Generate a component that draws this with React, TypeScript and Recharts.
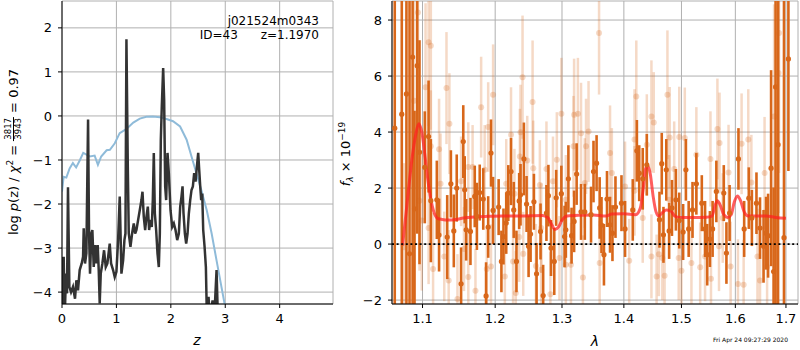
import React from "react";
import { CartesianGrid, ComposedChart, ErrorBar, Line, ReferenceLine, Scatter, XAxis, YAxis } from "recharts";

// left panel: log p(z) (black) and the smooth curve (blue)
const pzZ = [
  0.0, 0.012, 0.031, 0.049, 0.074, 0.092, 0.11, 0.135, 0.166, 0.202, 0.239, 0.264, 0.294, 0.325, 0.362, 0.387, 0.399,
  0.423, 0.448, 0.479, 0.497, 0.515, 0.54, 0.558, 0.583, 0.607, 0.632, 0.656, 0.675, 0.693, 0.712, 0.742, 0.773, 0.804,
  0.834, 0.877, 0.902, 0.939, 0.969, 1.0, 1.031, 1.061, 1.092, 1.123, 1.147, 1.166, 1.184, 1.209, 1.227, 1.258, 1.288,
  1.319, 1.344, 1.368, 1.399, 1.429, 1.46, 1.479, 1.503, 1.528, 1.552, 1.577, 1.601, 1.626, 1.65, 1.669, 1.687, 1.706,
  1.73, 1.755, 1.779, 1.798, 1.816, 1.834, 1.859, 1.877, 1.896, 1.914, 1.939, 1.963, 1.994, 2.025, 2.055, 2.086, 2.117,
  2.147, 2.172, 2.196, 2.215, 2.233, 2.258, 2.282, 2.307, 2.331, 2.356, 2.38, 2.405, 2.429, 2.454, 2.479, 2.503, 2.521,
  2.54, 2.558, 2.577, 2.595, 2.62, 2.644, 2.663, 2.693, 2.718, 2.767, 2.798, 2.84, 2.865, 2.902,
];
const pzLog = [
  -3.2, -4.6, -3.2, -4.6, -3.58, -4.03, -1.62, -3.88, -4.0, -3.88, -4.15, -3.73, -3.96, -3.5, -3.35, -3.2, -2.55, -3.35,
  -3.12, -0.08, -2.67, -3.58, -2.67, -2.59, -3.43, -2.93, -3.35, -2.93, -3.5, -4.26, -3.58, -3.35, -3.05, -3.43, -3.35,
  -2.9, -3.35, -3.5, -3.66, -3.54, -2.82, -1.83, -3.58, -3.28, -2.82, -2.67, 1.74, -1.15, -2.67, -2.97, -2.67, -2.44,
  -2.67, -2.59, -2.36, -2.14, -1.91, -1.72, -2.29, -2.59, -2.29, -2.06, -2.59, -2.36, -2.52, -1.91, -0.84, -2.21, -2.59,
  -3.12, -3.43, -2.67, -0.54, 0.22, 1.09, 0.37, -1.6, -1.91, -0.84, -1.3, -2.14, -2.52, -2.44, -2.59, -2.82, -2.67,
  -2.06, -1.83, -1.6, -2.21, -2.67, -2.9, -2.67, -2.21, -1.91, -1.68, -1.6, -1.3, -1.49, -1.15, -0.84, -1.22, -1.6,
  -1.91, -1.76, -2.59, -2.97, -3.43, -4.6, -4.11, -4.6, -4.19, -4.6, -3.5, -4.6, -5.0,
];
const priorZ = [
  0.0, 0.03, 0.08, 0.14, 0.2, 0.26, 0.33, 0.39, 0.45, 0.51, 0.6, 0.66, 0.72, 0.82, 0.88, 0.97, 1.06, 1.18, 1.31, 1.43,
  1.55, 1.67, 1.8, 1.92, 2.04, 2.17, 2.29, 2.38, 2.47, 2.56, 2.66, 2.75, 2.84, 2.93, 2.99, 3.05,
];
const priorLog = [
  -1.72, -1.38, -1.4, -1.19, -1.07, -1.17, -1.0, -0.84, -0.88, -0.92, -0.9, -1.11, -0.92, -0.78, -0.77, -0.62, -0.39,
  -0.3, -0.15, -0.06, -0.02, -0.01, -0.03, -0.07, -0.12, -0.24, -0.54, -0.92, -1.3, -1.68, -2.14, -2.67, -3.28, -3.88,
  -4.28, -4.8,
];

// right panel: spectrum points (dark), other exposures (light), model (red)
const darkLam = [
  1.064, 1.073, 1.079, 1.083, 1.087, 1.0895, 1.093, 1.096, 1.103, 1.108, 1.111, 1.119, 1.122, 1.133, 1.138, 1.142,
  1.146, 1.152, 1.155, 1.157, 1.159, 1.165, 1.171, 1.174, 1.178, 1.183, 1.187, 1.19, 1.194, 1.197, 1.205, 1.209, 1.212,
  1.216, 1.219, 1.223, 1.227, 1.231, 1.235, 1.237, 1.242, 1.246, 1.249, 1.252, 1.257, 1.261, 1.267, 1.271, 1.276,
  1.279, 1.283, 1.288, 1.291, 1.299, 1.304, 1.306, 1.31, 1.315, 1.319, 1.323, 1.33, 1.336, 1.346, 1.35, 1.355, 1.36,
  1.363, 1.367, 1.372, 1.377, 1.381, 1.386, 1.396, 1.402, 1.415, 1.422, 1.426, 1.432, 1.439, 1.461, 1.465, 1.468,
  1.473, 1.478, 1.483, 1.49, 1.496, 1.503, 1.508, 1.513, 1.52, 1.527, 1.537, 1.543, 1.547, 1.552, 1.557, 1.564, 1.578,
  1.583, 1.589, 1.606, 1.617, 1.626, 1.632, 1.641, 1.648, 1.655, 1.66, 1.664, 1.67, 1.675, 1.679, 1.684, 1.696, 1.705,
];
const darkFlux = [
  4.14, 4.64, 5.36, -0.35, 6.68, 1.26, 6.37, 3.28, 2.74, 3.84, 1.55, 1.58, 0.32, 0.25, 2.15, 0.47, 2.0, -1.42, 3.66,
  1.94, 0.51, 0.45, 1.7, 0.99, 1.84, 1.61, -1.85, 0.61, 3.25, 1.2, 1.32, -0.62, 0.27, 0.75, 1.82, 2.59, 1.22, -0.62,
  1.54, 1.76, 3.04, 1.43, -0.08, 0.36, 1.51, -1.06, 0.45, -1.84, 1.11, 1.73, -0.14, -0.62, 1.65, 1.8, 0.27, 0.51, 2.33,
  0.3, 0.81, 2.5, 1.15, 1.15, 1.05, 2.59, 2.89, 1.29, 0.68, -0.38, 1.61, 0.69, 0.39, 1.32, 1.46, 0.54, 1.22, 3.33, 2.53,
  2.33, 2.83, 0.87, 2.87, 0.33, 2.65, 0.47, 1.29, 1.58, 0.84, 0.43, 2.65, 0.54, 1.22, 2.15, 1.46, 0.54, -0.38, 0.18,
  0.54, 1.88, 1.82, -0.32, 1.11, 3.04, 0.54, 1.64, 0.93, 1.46, 0.57, -0.08, 0.39, 0.3, 2.71, -0.98, 5.61, 3.55, 0.23,
  6.61,
];
const darkErr = [
  12, 12, 12, 12, 12, 3.5, 6, 4, 2.0, 2.0, 2.2, 1.4, 1.3, 1.5, 1.2, 1.3, 1.2, 1.3, 1.3, 1.2, 1.1, 1.2, 1.1, 1.2, 1.0,
  1.1, 1.2, 1.1, 1.2, 1.2, 1.0, 1.1, 1.0, 1.1, 1.0, 1.2, 1.0, 1.1, 1.0, 1.1, 1.3, 1.0, 1.1, 1.0, 1.0, 1.1, 1.0, 1.1,
  1.0, 1.1, 1.0, 1.2, 1.0, 1.0, 1.1, 1.0, 1.2, 1.0, 1.1, 1.1, 1.0, 1.0, 1.0, 1.1, 1.0, 1.1, 1.0, 1.1, 1.0, 1.0, 1.0,
  1.1, 1.0, 1.0, 1.1, 1.1, 1.0, 1.1, 1.1, 1.0, 1.1, 1.0, 1.1, 1.0, 1.0, 1.1, 1.0, 1.0, 1.1, 1.0, 1.0, 1.1, 1.0, 1.0,
  1.1, 1.0, 1.0, 1.1, 1.0, 1.1, 1.0, 1.1, 1.0, 1.1, 1.0, 1.1, 1.1, 1.3, 1.3, 1.5, 3.5, 3.0, 12, 12, 12, 4,
];

const lightLam = [
  1.076, 1.089, 1.094, 1.096, 1.099, 1.104, 1.108, 1.108, 1.111, 1.111, 1.114, 1.122, 1.124, 1.129, 1.132, 1.135,
  1.136, 1.147, 1.152, 1.156, 1.162, 1.162, 1.168, 1.172, 1.18, 1.185, 1.188, 1.19, 1.194, 1.197, 1.214, 1.216, 1.223,
  1.226, 1.228, 1.23, 1.235, 1.236, 1.237, 1.24, 1.241, 1.247, 1.255, 1.256, 1.26, 1.266, 1.268, 1.268, 1.276, 1.282,
  1.286, 1.292, 1.296, 1.299, 1.306, 1.306, 1.314, 1.318, 1.319, 1.325, 1.33, 1.333, 1.336, 1.338, 1.342, 1.359, 1.36,
  1.377, 1.38, 1.402, 1.409, 1.418, 1.418, 1.421, 1.432, 1.439, 1.447, 1.447, 1.451, 1.456, 1.46, 1.466, 1.47, 1.475,
  1.478, 1.479, 1.487, 1.495, 1.496, 1.5, 1.506, 1.518, 1.527, 1.534, 1.543, 1.553, 1.554, 1.566, 1.569, 1.57, 1.576,
  1.587, 1.591, 1.605, 1.612, 1.616, 1.625, 1.631, 1.643, 1.648, 1.657, 1.662, 1.676, 1.685, 1.686,
];
const lightFlux = [
  -0.11, 5.12, 8.27, 1.55, 0.84, 5.6, 7.21, 0.57, 7.08, 3.49, -0.89, 3.39, 2.15, -0.44, 5.57, -1.3, 4.3, -1.96, 2.24,
  -0.18, 2.75, -1.18, 2.75, -1.67, 4.89, 2.65, -0.89, 4.18, -0.8, 5.33, -1.16, 2.15, 3.9, -0.62, 1.8, -1.75, 0.25,
  3.13, 3.99, 5.96, -0.35, 2.98, 5.07, 2.71, -0.78, 2.11, 0.57, -0.92, 2.68, -1.79, 2.24, 3.01, -0.5, 4.65, 1.58, -0.74,
  -0.74, 3.49, 4.62, 4.65, 3.96, -1.19, 2.18, 3.49, 4.02, 7.54, -0.68, 3.25, 2.54, 2.06, -0.6, 3.73, 1.9, 5.27, 0.93,
  3.55, 4.56, -0.44, 4.34, -1.16, -0.36, -0.5, -1.13, 5.33, 1.58, 3.81, 2.68, -0.5, 3.82, -0.95, 3.79, -0.68, 3.19,
  -0.83, -0.44, 3.04, -1.24, 4.11, -0.08, 3.61, 0.93, 2.56, -0.8, -1.43, 3.58, -1.45, 3.73, 2.2, -0.44, -1.3, 2.54,
  -0.82, 4.56, 6.11, 7.54,
];
const lightErr = [
  3.0, 4.0, 5.0, 2.5, 2.5, 3.0, 3.0, 2.0, 3.0, 2.0, 2.0, 1.8, 1.8, 1.6, 2.0, 1.8, 1.8, 1.6, 1.6, 1.5, 1.6, 1.6, 1.5,
  1.5, 1.8, 1.6, 1.5, 1.6, 1.5, 1.8, 1.5, 1.6, 1.7, 1.5, 1.6, 1.5, 1.6, 1.7, 1.7, 2.2, 1.5, 1.6, 2.2, 1.7, 1.5, 1.6,
  1.6, 1.5, 1.7, 1.5, 1.6, 1.7, 1.5, 2.0, 1.6, 1.5, 1.5, 1.8, 2.0, 2.0, 1.8, 1.5, 1.6, 1.7, 1.8, 2.2, 1.5, 1.7, 1.6,
  1.6, 1.5, 1.8, 1.6, 2.0, 1.6, 1.8, 2.0, 1.5, 1.8, 1.5, 1.5, 1.5, 1.5, 2.3, 1.6, 1.8, 1.7, 1.5, 1.8, 1.5, 1.8, 1.5,
  1.7, 1.6, 1.6, 1.7, 1.6, 1.8, 1.6, 1.8, 1.6, 1.7, 1.6, 1.6, 1.8, 1.6, 1.8, 1.7, 1.7, 1.8, 2.0, 2.0, 4.0, 5.0, 5.0,
];

const modelLam = [
  1.074, 1.08, 1.086, 1.091, 1.095, 1.099, 1.103, 1.107, 1.111, 1.115, 1.12, 1.126, 1.135, 1.145, 1.155, 1.17, 1.19,
  1.21, 1.23, 1.25, 1.27, 1.278, 1.284, 1.289, 1.295, 1.3, 1.308, 1.33, 1.35, 1.37, 1.38, 1.4, 1.42, 1.428, 1.433,
  1.437, 1.441, 1.445, 1.45, 1.455, 1.46, 1.466, 1.473, 1.48, 1.488, 1.495, 1.52, 1.545, 1.556, 1.562, 1.566, 1.571,
  1.578, 1.585, 1.592, 1.598, 1.604, 1.61, 1.617, 1.625, 1.64, 1.66, 1.68, 1.7,
];
const modelFlux = [
  -0.05, 1.5, 3.0, 3.9, 4.3, 4.0, 3.2, 2.3, 1.6, 1.15, 0.92, 0.88, 0.86, 0.88, 0.93, 0.97, 0.99, 1.0, 1.0, 1.01, 1.02,
  0.95, 0.7, 0.52, 0.62, 0.85, 1.0, 1.03, 1.04, 1.0, 1.07, 1.08, 1.05, 1.3, 2.0, 2.7, 2.8, 2.5, 1.7, 1.15, 1.0, 1.12,
  1.22, 1.2, 1.0, 0.95, 0.95, 0.96, 1.0, 1.4, 1.55, 1.4, 1.05, 0.95, 1.05, 1.5, 1.72, 1.55, 1.15, 1.0, 1.0, 1.0, 0.95,
  0.92,
];

const zTicks = [0, 1, 2, 3, 4];
const logTicks = [-4, -3, -2, -1, 0, 1, 2];
const lamTicks = [1.1, 1.2, 1.3, 1.4, 1.5, 1.6, 1.7];
const fluxTicks = [-2, 0, 2, 4, 6, 8];

const FLUX_MIN = -2.14;
const FLUX_MAX = 8.68;

// error bars are cut at the frame, like matplotlib clips them
const barRange = (f: number, e: number) => [Math.min(e, f - FLUX_MIN), Math.min(e, FLUX_MAX - f)];

const pzData = pzZ.map((z, i) => ({ z, v: pzLog[i] }));
const priorData = priorZ.map((z, i) => ({ z, v: priorLog[i] }));
const darkData = darkLam.map((lam, i) => ({ lam, f: darkFlux[i], err: barRange(darkFlux[i], darkErr[i]) }));
const lightData = lightLam.map((lam, i) => ({ lam, f: lightFlux[i], err: barRange(lightFlux[i], lightErr[i]) }));
const modelData = modelLam.map((lam, i) => ({ lam, f: modelFlux[i] }));

const FONT = '"DejaVu Sans", sans-serif';
const ORANGE = "#d8671a";
const tickStyle = { fill: "#000", fontSize: 13, fontFamily: FONT };
const minus = (v: number) => (v < 0 ? "\u2212" + Math.abs(v) : String(v));

const dot = (r: number, opacity: number) => (p: any) =>
  <circle cx={p.cx} cy={p.cy} r={r} fill={ORANGE} fillOpacity={opacity} />;

export default function App() {
  return (
    <div style={{ position: "absolute", left: 0, top: 0, width: 800, height: 350, background: "#fff", fontFamily: FONT, color: "#000" }}>
      <div style={{ position: "absolute", left: 0, top: 0 }}>
        <ComposedChart width={340} height={350} margin={{ top: 1, right: 7, bottom: 0, left: 0 }}>
          <CartesianGrid stroke='#b0b0b0' strokeWidth={1} />
          <XAxis dataKey='z' type='number' domain={[0, 4.98]} ticks={zTicks} allowDataOverflow height={46}
            tick={tickStyle} tickSize={4} tickMargin={6} axisLine={{ stroke: "#000" }} tickLine={{ stroke: "#000" }} />
          <YAxis dataKey='v' type='number' domain={[-4.27, 2.61]} ticks={logTicks} allowDataOverflow width={62}
            tick={tickStyle} tickSize={4} tickMargin={6} tickFormatter={minus} axisLine={{ stroke: "#000" }} tickLine={{ stroke: "#000" }} />
          <XAxis xAxisId='top' orientation='top' type='number' domain={[0, 1]} height={0} tick={false} tickLine={false} axisLine={{ stroke: "#000" }} />
          <YAxis yAxisId='right' orientation='right' type='number' domain={[0, 1]} width={0} tick={false} tickLine={false} axisLine={{ stroke: "#000" }} />
          <Line data={priorData} dataKey='v' type='linear' stroke='#8fbbd9' strokeWidth={2} dot={false} isAnimationActive={false} />
          <Line data={pzData} dataKey='v' type='linear' stroke='#333333' strokeWidth={2.5} dot={false} isAnimationActive={false} />
        </ComposedChart>
      </div>

      <div style={{ position: "absolute", left: 340, top: 0 }}>
        <ComposedChart width={460} height={350} margin={{ top: 1, right: 2, bottom: 0, left: 0 }}>
          <CartesianGrid stroke='#b0b0b0' strokeWidth={1} />
          <XAxis dataKey='lam' type='number' scale='log' domain={[1.0605, 1.7247]} ticks={lamTicks} allowDataOverflow height={46}
            tick={tickStyle} tickSize={4} tickMargin={6} tickFormatter={(v: number) => v.toFixed(1)} axisLine={{ stroke: "#000" }} tickLine={{ stroke: "#000" }} />
          <YAxis dataKey='f' type='number' domain={[FLUX_MIN, FLUX_MAX]} ticks={fluxTicks} allowDataOverflow width={52}
            tick={tickStyle} tickSize={4} tickMargin={6} tickFormatter={minus} axisLine={{ stroke: "#000" }} tickLine={{ stroke: "#000" }} />
          <XAxis xAxisId='top' orientation='top' type='number' domain={[0, 1]} height={0} tick={false} tickLine={false} axisLine={{ stroke: "#000" }} />
          <YAxis yAxisId='right' orientation='right' type='number' domain={[0, 1]} width={0} tick={false} tickLine={false} axisLine={{ stroke: "#000" }} />
          <Scatter data={lightData} dataKey='f' shape={dot(3, 0.25)} isAnimationActive={false}>
            <ErrorBar dataKey='err' direction='y' width={0} stroke={ORANGE} strokeOpacity={0.25} strokeWidth={2.5} />
          </Scatter>
          <Scatter data={darkData} dataKey='f' shape={dot(2.6, 1)} isAnimationActive={false}>
            <ErrorBar dataKey='err' direction='y' width={0} stroke={ORANGE} strokeWidth={2.6} />
          </Scatter>
          <Line data={modelData} dataKey='f' type='monotone' stroke='#ff2020' strokeOpacity={0.72} strokeWidth={3} dot={false} isAnimationActive={false} />
          <ReferenceLine y={0} stroke='#000' strokeDasharray='2 2.6' strokeWidth={1.8} />
        </ComposedChart>
      </div>

      {/* annotation in the left panel */}
      <div style={{ position: "absolute", right: 800 - 319, top: 14, fontSize: 12, lineHeight: "14px", textAlign: "right", whiteSpace: "pre" }}>
        {"j021524m0343\nID=43      z=1.1970"}
      </div>

      {/* axis labels */}
      <div style={{ position: "absolute", left: 13, top: 152, transform: "translate(-50%,-50%) rotate(-90deg)", whiteSpace: "nowrap", fontSize: 13, display: "flex", alignItems: "center" }}>
        <span>log <i>p</i>(z) / <i>χ</i><sup style={{ fontSize: 9 }}>2</sup>&nbsp;=&nbsp;</span>
        <span style={{ display: "inline-flex", flexDirection: "column", alignItems: "center", fontSize: 8.5, lineHeight: "8.5px" }}>
          <span style={{ borderBottom: "0.8px solid #000", padding: "0 1px" }}>3817</span>
          <span>3943</span>
        </span>
        <span>&nbsp;=&nbsp;0.97</span>
      </div>
      <div style={{ position: "absolute", left: 346, top: 154, transform: "translate(-50%,-50%) rotate(-90deg)", whiteSpace: "nowrap", fontSize: 13 }}>
        <i>f</i><sub style={{ fontSize: 9 }}><i>λ</i></sub> × 10<sup style={{ fontSize: 9 }}>−19</sup>
      </div>
      <div style={{ position: "absolute", left: 197, top: 340, transform: "translate(-50%,-50%)", fontSize: 14, fontStyle: "italic" }}>z</div>
      <div style={{ position: "absolute", left: 595, top: 341, transform: "translate(-50%,-50%)", fontSize: 14, fontStyle: "italic" }}>λ</div>
      <div style={{ position: "absolute", right: 800 - 788, top: 339, transform: "translateY(-50%)", fontSize: 6, whiteSpace: "nowrap" }}>
        Fri Apr 24 09:27:29 2020
      </div>
    </div>
  );
}
